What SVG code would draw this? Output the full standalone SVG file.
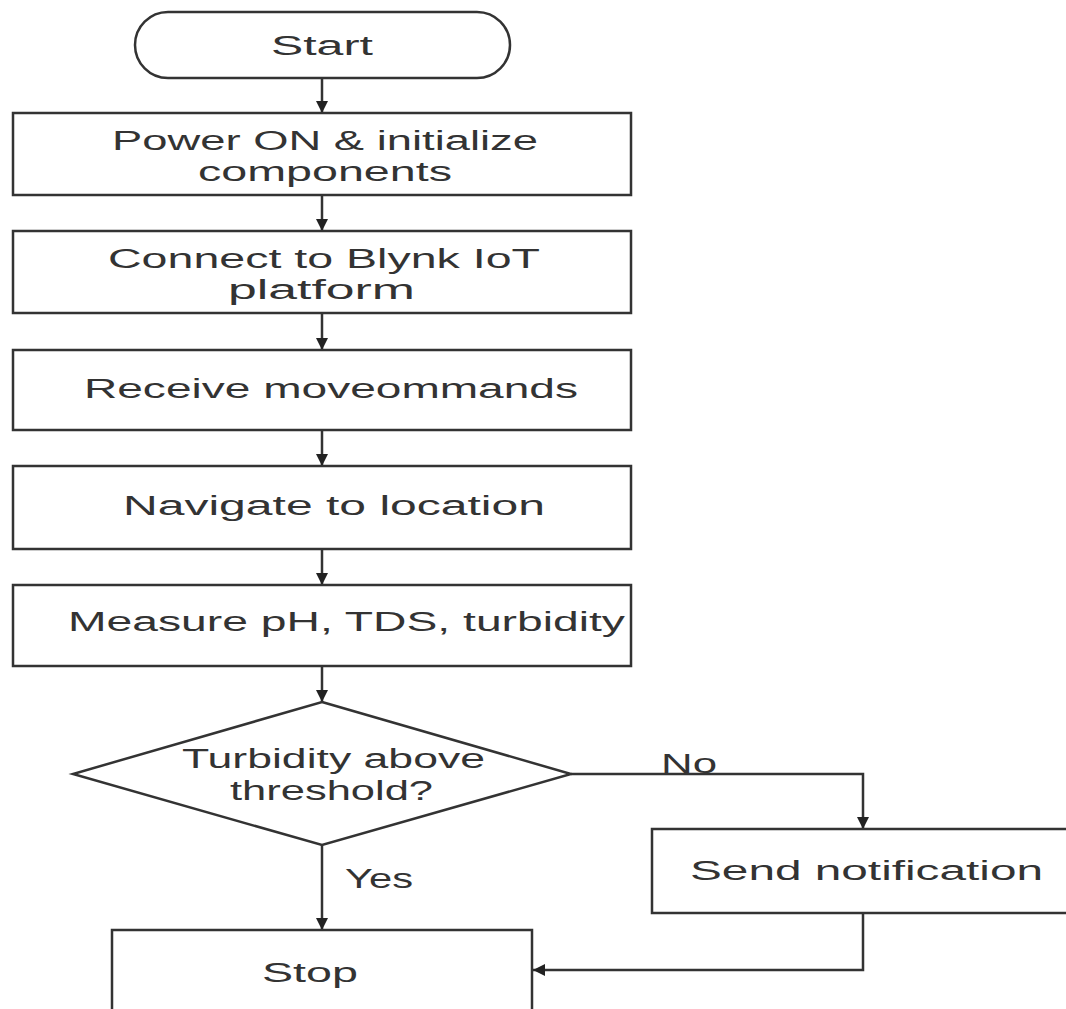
<svg xmlns="http://www.w3.org/2000/svg" width="1066" height="1009" viewBox="0 0 1066 1009">
  <style>
    .shape { fill: #ffffff; stroke: #333333; stroke-width: 2.5; }
    .conn { fill: none; stroke: #333333; stroke-width: 2.5; }
    .lbl { font-family: "Liberation Sans", Arial, sans-serif; font-size: 27px; fill: #333333; }
  </style>
  <defs>
    <marker id="arrow" markerUnits="userSpaceOnUse" markerWidth="14" markerHeight="14" refX="12" refY="6" orient="auto">
      <path d="M0,0 L12,6 L0,12 Z" fill="#222222"/>
    </marker>
  </defs>
  <rect width="1066" height="1009" fill="#ffffff"/>

  <g id="connectors">
    <line class="conn" x1="322" y1="78" x2="322" y2="113" marker-end="url(#arrow)"/>
    <line class="conn" x1="322" y1="195" x2="322" y2="231" marker-end="url(#arrow)"/>
    <line class="conn" x1="322" y1="313" x2="322" y2="350" marker-end="url(#arrow)"/>
    <line class="conn" x1="322" y1="430" x2="322" y2="466" marker-end="url(#arrow)"/>
    <line class="conn" x1="322" y1="549" x2="322" y2="585" marker-end="url(#arrow)"/>
    <line class="conn" x1="322" y1="666" x2="322" y2="702" marker-end="url(#arrow)"/>
    <polyline class="conn" points="571,774 863,774 863,829" marker-end="url(#arrow)"/>
    <line class="conn" x1="322" y1="845" x2="322" y2="930" marker-end="url(#arrow)"/>
    <polyline class="conn" points="863,913 863,970 533,970" marker-end="url(#arrow)"/>
    <text class="lbl" x="661" y="773" textLength="56" lengthAdjust="spacingAndGlyphs">No</text>
    <text class="lbl" x="345" y="888" textLength="68" lengthAdjust="spacingAndGlyphs">Yes</text>
  </g>

  <g id="start">
    <rect class="shape" x="135" y="12" width="375" height="66" rx="33" ry="33"/>
    <text class="lbl" x="271" y="55" textLength="102" lengthAdjust="spacingAndGlyphs">Start</text>
  </g>

  <g id="power">
    <rect class="shape" x="13" y="113" width="618" height="82"/>
    <text class="lbl" x="112" y="150" textLength="426" lengthAdjust="spacingAndGlyphs">Power ON &amp; initialize</text>
    <text class="lbl" x="198" y="181" textLength="254" lengthAdjust="spacingAndGlyphs">components</text>
  </g>

  <g id="connect">
    <rect class="shape" x="13" y="231" width="618" height="82"/>
    <text class="lbl" x="108" y="268" textLength="432" lengthAdjust="spacingAndGlyphs">Connect to Blynk IoT</text>
    <text class="lbl" x="228" y="299" textLength="187" lengthAdjust="spacingAndGlyphs">platform</text>
  </g>

  <g id="receive">
    <rect class="shape" x="13" y="350" width="618" height="80"/>
    <text class="lbl" x="84" y="398" textLength="494" lengthAdjust="spacingAndGlyphs">Receive moveommands</text>
  </g>

  <g id="navigate">
    <rect class="shape" x="13" y="466" width="618" height="83"/>
    <text class="lbl" x="123" y="515" textLength="422" lengthAdjust="spacingAndGlyphs">Navigate to location</text>
  </g>

  <g id="measure">
    <rect class="shape" x="13" y="585" width="618" height="81"/>
    <text class="lbl" x="68" y="631" textLength="557" lengthAdjust="spacingAndGlyphs">Measure pH, TDS, turbidity</text>
  </g>

  <g id="decision">
    <polygon class="shape" points="322,702 571,774 322,845 73,774"/>
    <text class="lbl" x="182" y="768" textLength="303" lengthAdjust="spacingAndGlyphs">Turbidity above</text>
    <text class="lbl" x="230" y="800" textLength="203" lengthAdjust="spacingAndGlyphs">threshold?</text>
  </g>

  <g id="notify">
    <rect class="shape" x="652" y="829" width="430" height="84"/>
    <text class="lbl" x="690" y="880" textLength="353" lengthAdjust="spacingAndGlyphs">Send notification</text>
  </g>

  <g id="stop">
    <rect class="shape" x="112" y="930" width="420" height="100"/>
    <text class="lbl" x="262" y="982" textLength="96" lengthAdjust="spacingAndGlyphs">Stop</text>
  </g>
</svg>
